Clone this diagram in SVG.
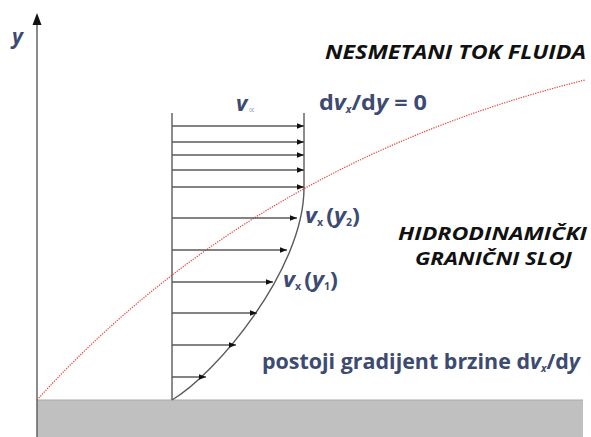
<svg xmlns="http://www.w3.org/2000/svg" width="591" height="437" viewBox="0 0 591 437">
<defs>
<style>
.ln{stroke:#5a5a5a;stroke-width:1.4;fill:none}
.arr{stroke:#5a5a5a;stroke-width:1.3;fill:none;marker-end:url(#ah)}
.bl{font-family:"Open Sans",Lato,"Liberation Sans",sans-serif;font-weight:bold;fill:#3d4a72}
.bk{font-family:"Open Sans",Lato,"Liberation Sans",sans-serif;font-weight:bold;font-style:italic;fill:#111}
.it{font-style:italic}
</style>
<marker id="ah" viewBox="0 0 10 8" refX="10" refY="4" markerWidth="7" markerHeight="5.6" orient="auto" markerUnits="userSpaceOnUse">
<path d="M0,0 L10,4 L0,8 Z" fill="#111"/>
</marker>
</defs>
<g id="wall">
<rect x="37" y="400" width="546" height="37" fill="#c0c0c0"/>
<line x1="37" y1="400" x2="583" y2="400" stroke="#a9a9a9" stroke-width="1"/>
</g>
<g id="axis">
<line x1="37" y1="437" x2="37" y2="24" class="ln"/>
<path d="M37,13 L41.5,25 L32.5,25 Z" fill="#111"/>
<text x="12" y="44" class="bl it" font-size="21">y</text>
</g>
<g id="connectors">
<path d="M37,400 Q252,163 585,80" fill="none" stroke="#e8453c" stroke-width="1.2" stroke-dasharray="1.3 1.2"/>
<line x1="172" y1="113" x2="172" y2="400" class="ln"/>
<line x1="304" y1="113" x2="304" y2="188" class="ln"/>
<path d="M172,400 C215,375 304,270 304,188" class="ln"/>
<line x1="172" y1="126" x2="304" y2="126" class="arr"/>
<line x1="172" y1="142" x2="304" y2="142" class="arr"/>
<line x1="172" y1="155" x2="304" y2="155" class="arr"/>
<line x1="172" y1="170" x2="304" y2="170" class="arr"/>
<line x1="172" y1="187" x2="304" y2="187" class="arr"/>
<line x1="172" y1="218" x2="297" y2="218" class="arr"/>
<line x1="172" y1="250" x2="287" y2="250" class="arr"/>
<line x1="172" y1="282" x2="273" y2="282" class="arr"/>
<line x1="172" y1="313" x2="257" y2="313" class="arr"/>
<line x1="172" y1="345" x2="236" y2="345" class="arr"/>
<line x1="172" y1="377" x2="206" y2="377" class="arr"/>
</g>
<g id="label-vinf">
<text x="236" y="111" class="bl" font-size="22"><tspan class="it">v</tspan><tspan font-size="10" font-weight="normal" fill="#9aa2bd" dx="1" dy="2">∝</tspan></text>
</g>
<g id="label-grad0">
<text x="319" y="110" class="bl" font-size="22" textLength="108" lengthAdjust="spacingAndGlyphs">d<tspan class="it">v</tspan><tspan font-size="10" dy="3" class="it">x</tspan><tspan dy="-3">/d</tspan><tspan class="it">y</tspan> = 0</text>
</g>
<g id="label-nesmetani">
<text x="325" y="59" class="bk" font-size="20" textLength="261" lengthAdjust="spacingAndGlyphs">NESMETANI TOK FLUIDA</text>
</g>
<g id="label-vy2">
<text x="305" y="223" class="bl" font-size="22" textLength="55" lengthAdjust="spacingAndGlyphs"><tspan class="it">v</tspan><tspan font-size="10" dy="3">x</tspan><tspan dy="-3" dx="3">(</tspan><tspan class="it">y</tspan><tspan font-size="10" dy="3">2</tspan><tspan dy="-3">)</tspan></text>
</g>
<g id="label-vy1">
<text x="283" y="287" class="bl" font-size="22" textLength="55" lengthAdjust="spacingAndGlyphs"><tspan class="it">v</tspan><tspan font-size="10" dy="3">x</tspan><tspan dy="-3" dx="3">(</tspan><tspan class="it">y</tspan><tspan font-size="10" dy="3">1</tspan><tspan dy="-3">)</tspan></text>
</g>
<g id="label-granicni">
<text x="398" y="240" class="bk" font-size="18" textLength="189" lengthAdjust="spacingAndGlyphs">HIDRODINAMIČKI</text>
<text x="415" y="264.5" class="bk" font-size="18" textLength="157" lengthAdjust="spacingAndGlyphs">GRANIČNI SLOJ</text>
</g>
<g id="label-postoji">
<text x="262" y="369" class="bl" font-size="21" textLength="318" lengthAdjust="spacingAndGlyphs">postoji gradijent brzine d<tspan class="it">v</tspan><tspan font-size="10" dy="3" class="it">x</tspan><tspan dy="-3">/d</tspan><tspan class="it">y</tspan></text>
</g>
</svg>
